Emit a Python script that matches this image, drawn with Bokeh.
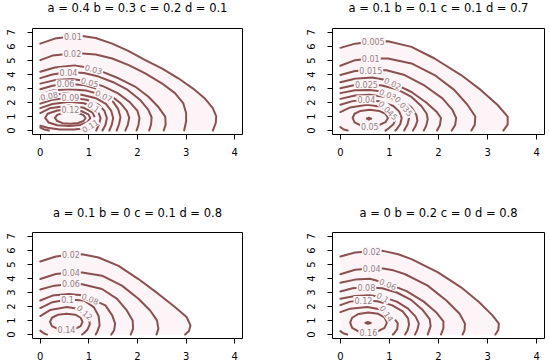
from bokeh.plotting import figure
from bokeh.layouts import gridplot
from bokeh.models import Range1d, FixedTicker, ColumnDataSource
from bokeh.core.properties import value
from bokeh.embed import file_html
from bokeh.resources import INLINE

# ---------------- data ----------------
X_TICKS = [0, 1, 2, 3, 4]
Y_TICKS = [0, 1, 2, 3, 4, 5, 6, 7]

P1_TITLE = "a = 0.4 b = 0.3 c = 0.2 d = 0.1"
P1_CONTOURS = [
    [(0, 6.2), (0.3, 6.56), (0.67, 6.72), (0.86, 6.75), (1.14, 6.6), (1.48, 6.2), (1.82, 5.66), (2.16, 5.02), (2.5, 4.43), (2.84, 3.73), (3.18, 2.9), (3.38, 2.31), (3.55, 1.6), (3.62, 1.01), (3.61, 0.54), (3.55, 0)],
    [(0, 5.02), (0.25, 5.35), (0.66, 5.5), (0.86, 5.5), (1.14, 5.42), (1.48, 5.14), (1.82, 4.67), (2.16, 4.08), (2.5, 3.37), (2.77, 2.67), (2.94, 1.96), (3.0, 1.25), (3.0, 0.66), (2.96, 0)],
    [(0, 4.2), (0.3, 4.5), (0.7, 4.65), (1.07, 4.45), (1.27, 4.2), (1.61, 3.73), (1.95, 3.14), (2.22, 2.43), (2.42, 1.72), (2.57, 1.0), (2.58, 0.45), (2.54, 0)],
    [(0, 3.74), (0.25, 4.0), (0.58, 4.17), (0.9, 4.1), (1.2, 3.85), (1.5, 3.45), (1.8, 2.9), (2.05, 2.2), (2.22, 1.5), (2.29, 0.95), (2.28, 0.45), (2.24, 0)],
    [(0, 3.35), (0.3, 3.6), (0.65, 3.68), (1.0, 3.5), (1.3, 3.15), (1.6, 2.65), (1.85, 2.0), (2.0, 1.4), (2.04, 0.9), (2.02, 0.4), (1.98, 0)],
    [(0, 2.95), (0.25, 3.2), (0.52, 3.33), (0.9, 3.25), (1.2, 2.95), (1.45, 2.5), (1.65, 1.95), (1.78, 1.4), (1.83, 0.92), (1.8, 0.4), (1.75, 0)],
    [(0, 2.6), (0.25, 2.85), (0.6, 2.95), (0.95, 2.85), (1.31, 2.5), (1.5, 2.05), (1.6, 1.55), (1.65, 0.95), (1.62, 0.45), (1.57, 0)],
    [(0, 2.24), (0.18, 2.5), (0.5, 2.65), (0.85, 2.55), (1.15, 2.3), (1.35, 1.9), (1.46, 1.4), (1.5, 0.9), (1.47, 0.4), (1.42, 0)],
    [(0, 1.92), (0.25, 2.2), (0.62, 2.35), (0.95, 2.2), (1.2, 1.85), (1.32, 1.4), (1.37, 0.9), (1.34, 0.4), (1.28, 0)],
    [(0, 1.6), (0.25, 1.9), (0.6, 2.05), (0.9, 1.95), (1.07, 1.72), (1.18, 1.4), (1.24, 0.9), (1.21, 0.45), (1.15, 0)],
    [(0, 1.25), (0.2, 1.6), (0.6, 1.78), (0.9, 1.62), (1.07, 1.3), (1.13, 0.9), (1.08, 0.45), (0.95, 0.18), (0.7, 0.07), (0.4, 0.08), (0.15, 0.2), (0, 0.35)],
    [(0.1, 0.9), (0.15, 1.2), (0.35, 1.43), (0.62, 1.5), (0.85, 1.38), (0.99, 1.15), (1.03, 0.9), (0.97, 0.6), (0.82, 0.4), (0.6, 0.32), (0.35, 0.38), (0.17, 0.58), (0.1, 0.9)],
    [(0.3, 0.9), (0.35, 1.12), (0.47, 1.26), (0.62, 1.31), (0.78, 1.25), (0.89, 1.1), (0.93, 0.9), (0.89, 0.68), (0.78, 0.54), (0.62, 0.48), (0.46, 0.53), (0.35, 0.68), (0.3, 0.9)],
    [(0, 0.22), (0.08, 0.08), (0.18, 0)],
]
P1_LABEL_TEXT = ["0.01", "0.02", "0.03", "0.04", "0.05", "0.06", "0.07", "0.08", "0.09", "0.1", "0.11", "0.12"]
P1_LABEL_X = [0.67, 0.66, 1.1, 0.58, 1.02, 0.52, 1.31, 0.18, 0.62, 1.1, 1.02, 0.62]
P1_LABEL_Y = [6.73, 5.5, 4.4, 4.17, 3.47, 3.33, 2.5, 2.5, 2.35, 1.7, 0.35, 1.5]
P1_LABEL_ANGLE = [0, 0, -15, 0, -15, 0, -25, 12, 0, -35, 32, 0]

P2_TITLE = "a = 0.1 b = 0.1 c = 0.1 d = 0.7"
P2_CONTOURS = [
    [(0, 5.9), (0.3, 6.2), (0.67, 6.35), (0.97, 6.37), (1.45, 5.97), (1.92, 5.14), (2.46, 3.96), (2.86, 2.9), (3.2, 1.84), (3.41, 1.0), (3.41, 0.42), (3.32, 0)],
    [(0, 4.62), (0.3, 5.02), (0.62, 5.14), (0.97, 5.14), (1.45, 4.79), (1.92, 3.96), (2.32, 2.9), (2.59, 1.84), (2.75, 1.0), (2.74, 0.42), (2.67, 0)],
    [(0, 3.96), (0.3, 4.25), (0.62, 4.32), (0.94, 4.3), (1.31, 3.96), (1.72, 3.2), (2.08, 2.3), (2.28, 1.5), (2.36, 0.9), (2.34, 0.4), (2.27, 0)],
    [(0, 3.44), (0.3, 3.7), (0.65, 3.78), (0.9, 3.62), (1.07, 3.38), (1.45, 2.75), (1.75, 2.0), (1.97, 1.3), (2.05, 0.9), (2.03, 0.4), (1.97, 0)],
    [(0, 3.02), (0.25, 3.22), (0.53, 3.3), (0.85, 3.22), (1.15, 2.95), (1.45, 2.4), (1.65, 1.75), (1.76, 1.2), (1.78, 0.8), (1.75, 0.35), (1.7, 0)],
    [(0, 2.67), (0.3, 2.88), (0.6, 2.9), (0.8, 2.8), (0.97, 2.6), (1.25, 2.2), (1.45, 1.65), (1.55, 1.1), (1.57, 0.7), (1.53, 0.3), (1.48, 0)],
    [(0, 2.26), (0.3, 2.5), (0.6, 2.55), (0.95, 2.38), (1.15, 2.1), (1.28, 1.8), (1.37, 1.35), (1.4, 0.9), (1.37, 0.45), (1.3, 0)],
    [(0, 1.84), (0.25, 2.1), (0.53, 2.2), (0.85, 2.05), (1.08, 1.75), (1.2, 1.35), (1.25, 0.9), (1.22, 0.45), (1.15, 0.1), (1.12, 0)],
    [(0, 1.32), (0.2, 1.65), (0.55, 1.84), (0.8, 1.72), (0.97, 1.47), (1.08, 1.12), (1.12, 0.8), (1.08, 0.45), (0.98, 0.15), (0.92, 0)],
    [(0.25, 0.9), (0.29, 1.2), (0.41, 1.4), (0.6, 1.48), (0.79, 1.4), (0.92, 1.2), (0.97, 0.9), (0.92, 0.6), (0.79, 0.4), (0.6, 0.3), (0.41, 0.38), (0.29, 0.58), (0.25, 0.9)],
    [(0.54, 0.85), (0.58, 0.92), (0.63, 0.85), (0.58, 0.78), (0.54, 0.85)],
    [(0, 0.25), (0.07, 0.08), (0.15, 0)],
]
P2_LABEL_TEXT = ["0.005", "0.01", "0.015", "0.02", "0.025", "0.03", "0.035", "0.04", "0.045", "0.05"]
P2_LABEL_X = [0.67, 0.62, 0.62, 1.07, 0.53, 0.97, 1.3, 0.53, 0.98, 0.6]
P2_LABEL_Y = [6.35, 5.14, 4.32, 3.38, 3.3, 2.6, 1.75, 2.2, 1.45, 0.3]
P2_LABEL_ANGLE = [0, 0, 0, -25, 0, -20, -50, 0, -45, 0]

P3_TITLE = "a = 0.1 b = 0 c = 0.1 d = 0.8"
P3_CONTOURS = [
    [(0, 5.21), (0.32, 5.57), (0.63, 5.7), (0.86, 5.73), (1.2, 5.5), (1.61, 4.9), (2.02, 3.96), (2.43, 2.9), (2.77, 1.96), (3.01, 1.25), (3.09, 0.66), (3.06, 0.25), (2.98, 0)],
    [(0, 3.96), (0.32, 4.32), (0.63, 4.43), (0.86, 4.43), (1.27, 4.2), (1.68, 3.49), (2.02, 2.55), (2.26, 1.72), (2.4, 1.01), (2.43, 0.42), (2.39, 0)],
    [(0, 3.21), (0.29, 3.49), (0.63, 3.61), (0.86, 3.59), (1.27, 3.25), (1.58, 2.55), (1.78, 1.72), (1.9, 1.01), (1.91, 0.42), (1.86, 0)],
    [(0, 2.43), (0.25, 2.78), (0.59, 2.9), (0.85, 2.8), (1.03, 2.57), (1.34, 2.08), (1.48, 1.37), (1.54, 0.78), (1.52, 0.31), (1.46, 0)],
    [(0, 1.89), (0.25, 2.31), (0.56, 2.5), (0.9, 2.43), (1.1, 1.96), (1.2, 1.32), (1.22, 0.66), (1.17, 0.19), (1.14, 0)],
    [(0, 1.32), (0.2, 1.75), (0.55, 1.96), (0.8, 1.82), (0.93, 1.55), (1.0, 1.15), (1.02, 0.75), (0.97, 0.35), (0.89, 0.08), (0.86, 0)],
    [(0.2, 0.9), (0.24, 1.2), (0.36, 1.41), (0.54, 1.49), (0.72, 1.42), (0.83, 1.2), (0.87, 0.9), (0.83, 0.6), (0.72, 0.4), (0.54, 0.33), (0.36, 0.4), (0.24, 0.6), (0.2, 0.9)],
    [(0, 0.28), (0.07, 0.09), (0.14, 0)],
]
P3_LABEL_TEXT = ["0.02", "0.04", "0.06", "0.08", "0.1", "0.12", "0.14"]
P3_LABEL_X = [0.63, 0.63, 0.63, 1.03, 0.56, 0.92, 0.54]
P3_LABEL_Y = [5.7, 4.43, 3.61, 2.57, 2.5, 1.6, 0.33]
P3_LABEL_ANGLE = [0, 0, 0, -22, 0, -42, 0]

P4_TITLE = "a = 0 b = 0.2 c = 0 d = 0.8"
P4_CONTOURS = [
    [(0, 5.57), (0.3, 5.85), (0.64, 5.95), (0.87, 5.97), (1.18, 5.73), (1.45, 5.38), (1.99, 4.43), (2.46, 3.37), (2.83, 2.31), (3.1, 1.37), (3.23, 0.78), (3.22, 0.35), (3.16, 0)],
    [(0, 4.3), (0.3, 4.62), (0.64, 4.72), (0.87, 4.72), (1.08, 4.58), (1.31, 4.32), (1.78, 3.49), (2.16, 2.43), (2.43, 1.49), (2.54, 0.78), (2.53, 0.31), (2.49, 0)],
    [(0, 3.7), (0.3, 3.92), (0.6, 3.98), (0.97, 3.62), (1.35, 3.1), (1.7, 2.35), (1.95, 1.6), (2.1, 0.95), (2.1, 0.45), (2.05, 0)],
    [(0, 3.07), (0.25, 3.3), (0.53, 3.37), (0.85, 3.3), (1.15, 3.0), (1.45, 2.45), (1.68, 1.75), (1.82, 1.1), (1.84, 0.6), (1.78, 0)],
    [(0, 2.55), (0.3, 2.75), (0.6, 2.8), (0.87, 2.67), (1.15, 2.35), (1.38, 1.85), (1.53, 1.3), (1.6, 0.8), (1.57, 0.35), (1.52, 0)],
    [(0, 2.1), (0.2, 2.35), (0.47, 2.43), (0.75, 2.38), (1.05, 2.1), (1.27, 1.65), (1.38, 1.15), (1.4, 0.7), (1.37, 0.3), (1.32, 0)],
    [(0, 1.6), (0.2, 1.85), (0.55, 1.96), (0.8, 1.8), (0.95, 1.52), (1.1, 1.15), (1.17, 0.8), (1.16, 0.4), (1.1, 0.1), (1.07, 0)],
    [(0.2, 0.85), (0.24, 1.2), (0.37, 1.47), (0.57, 1.58), (0.77, 1.48), (0.9, 1.22), (0.95, 0.85), (0.9, 0.48), (0.77, 0.24), (0.57, 0.14), (0.37, 0.22), (0.24, 0.48), (0.2, 0.85)],
    [(0.51, 0.83), (0.56, 0.9), (0.62, 0.83), (0.56, 0.76), (0.51, 0.83)],
    [(0, 0.25), (0.07, 0.08), (0.14, 0)],
]
P4_LABEL_TEXT = ["0.02", "0.04", "0.06", "0.08", "0.1", "0.12", "0.14", "0.16"]
P4_LABEL_X = [0.64, 0.64, 0.97, 0.53, 0.87, 0.47, 0.95, 0.57]
P4_LABEL_Y = [5.95, 4.72, 3.62, 3.37, 2.67, 2.43, 1.52, 0.14]
P4_LABEL_ANGLE = [0, 0, -22, 0, -28, 0, -55, 0]

# ---------------- styling ----------------
LINE = "#8b5050"
LABEL = "#967f83"
FILL = "#fdf4f7"
FONT = "DejaVu Sans"
X_RANGE = (-0.16, 4.16)
Y_RANGE = (-0.28, 7.28)
FIG_W = 275


def title_strip(title, height, center_from_top, bl, br):
    """A frameless strip carrying the panel title; shares the panel's x range so
    the title is centred over the plotting frame below it."""
    t = figure(width=FIG_W, height=height, output_backend="svg", toolbar_location=None,
               x_range=Range1d(*X_RANGE), y_range=Range1d(0, height),
               min_border_left=bl, min_border_right=br,
               min_border_top=0, min_border_bottom=0)
    t.axis.visible = False
    t.grid.visible = False
    t.outline_line_color = None
    t.background_fill_color = "white"
    t.border_fill_color = "white"
    t.text(x=[(X_RANGE[0] + X_RANGE[1]) / 2], y=[height - center_from_top], text=[title],
           text_font=value(FONT), text_font_size="11.5px", text_color="black",
           text_align="center", text_baseline="middle")
    return t


def panel(contours, lab_text, lab_x, lab_y, lab_ang, h, bl, br, bt, bb):
    p = figure(width=FIG_W, height=h, output_backend="svg", toolbar_location=None,
               title=None,
               x_range=Range1d(*X_RANGE), y_range=Range1d(*Y_RANGE),
               min_border_left=bl, min_border_right=br,
               min_border_top=bt, min_border_bottom=bb)
    p.grid.visible = False
    p.outline_line_color = "black"
    p.outline_line_width = 1
    p.outline_line_alpha = 1
    p.background_fill_color = "white"
    p.border_fill_color = "white"

    outer = contours[0]
    fx = [pt[0] for pt in outer] + [outer[0][0]]
    fy = [pt[1] for pt in outer] + [outer[-1][1]]
    p.patch(fx, fy, fill_color=FILL, line_color=None)

    xs = [[pt[0] for pt in c] for c in contours]
    ys = [[pt[1] for pt in c] for c in contours]
    p.multi_line(xs, ys, line_color=LINE, line_width=2,
                 line_cap="round", line_join="round")

    src = ColumnDataSource(dict(x=lab_x, y=lab_y, text=lab_text, angle=lab_ang))
    p.text(x="x", y="y", text="text", angle="angle", angle_units="deg", source=src,
           text_font=value(FONT), text_font_size="8px", text_color=LABEL,
           text_align="center", text_baseline="middle",
           background_fill_color="#fdf6f8", padding=1)

    for ax, ticks in ((p.xaxis[0], X_TICKS), (p.yaxis[0], Y_TICKS)):
        ax.ticker = FixedTicker(ticks=ticks)
        ax.bounds = (ticks[0], ticks[-1])
        ax.major_tick_in = 0
        ax.major_tick_out = 5
        ax.major_tick_line_color = "black"
        ax.minor_tick_line_color = None
        ax.major_label_text_font = FONT
        ax.major_label_text_font_size = "10px"
        ax.major_label_text_color = "black"
        ax.axis_line_color = "black"
    p.xaxis.major_label_standoff = 8
    p.yaxis.major_label_standoff = 12
    p.yaxis.major_label_orientation = "vertical"
    return p


L_LEFT, L_RIGHT = 32, 33     # left column borders
R_LEFT, R_RIGHT = 57, 6      # right column borders

t1 = title_strip(P1_TITLE, 20, 7, L_LEFT, L_RIGHT)
t2 = title_strip(P2_TITLE, 20, 7, R_LEFT, R_RIGHT)
f1 = panel(P1_CONTOURS, P1_LABEL_TEXT, P1_LABEL_X, P1_LABEL_Y, P1_LABEL_ANGLE,
           160, L_LEFT, L_RIGHT, 8, 46)
f2 = panel(P2_CONTOURS, P2_LABEL_TEXT, P2_LABEL_X, P2_LABEL_Y, P2_LABEL_ANGLE,
           160, R_LEFT, R_RIGHT, 8, 46)
t3 = title_strip(P3_TITLE, 40, 32, L_LEFT, L_RIGHT)
t4 = title_strip(P4_TITLE, 40, 32, R_LEFT, R_RIGHT)
f3 = panel(P3_CONTOURS, P3_LABEL_TEXT, P3_LABEL_X, P3_LABEL_Y, P3_LABEL_ANGLE,
           143, L_LEFT, L_RIGHT, 12, 25)
f4 = panel(P4_CONTOURS, P4_LABEL_TEXT, P4_LABEL_X, P4_LABEL_Y, P4_LABEL_ANGLE,
           143, R_LEFT, R_RIGHT, 12, 25)

grid = gridplot([[t1, t2], [f1, f2], [t3, t4], [f3, f4]], toolbar_location=None)

open("out.html", "w").write(file_html(grid, INLINE))
